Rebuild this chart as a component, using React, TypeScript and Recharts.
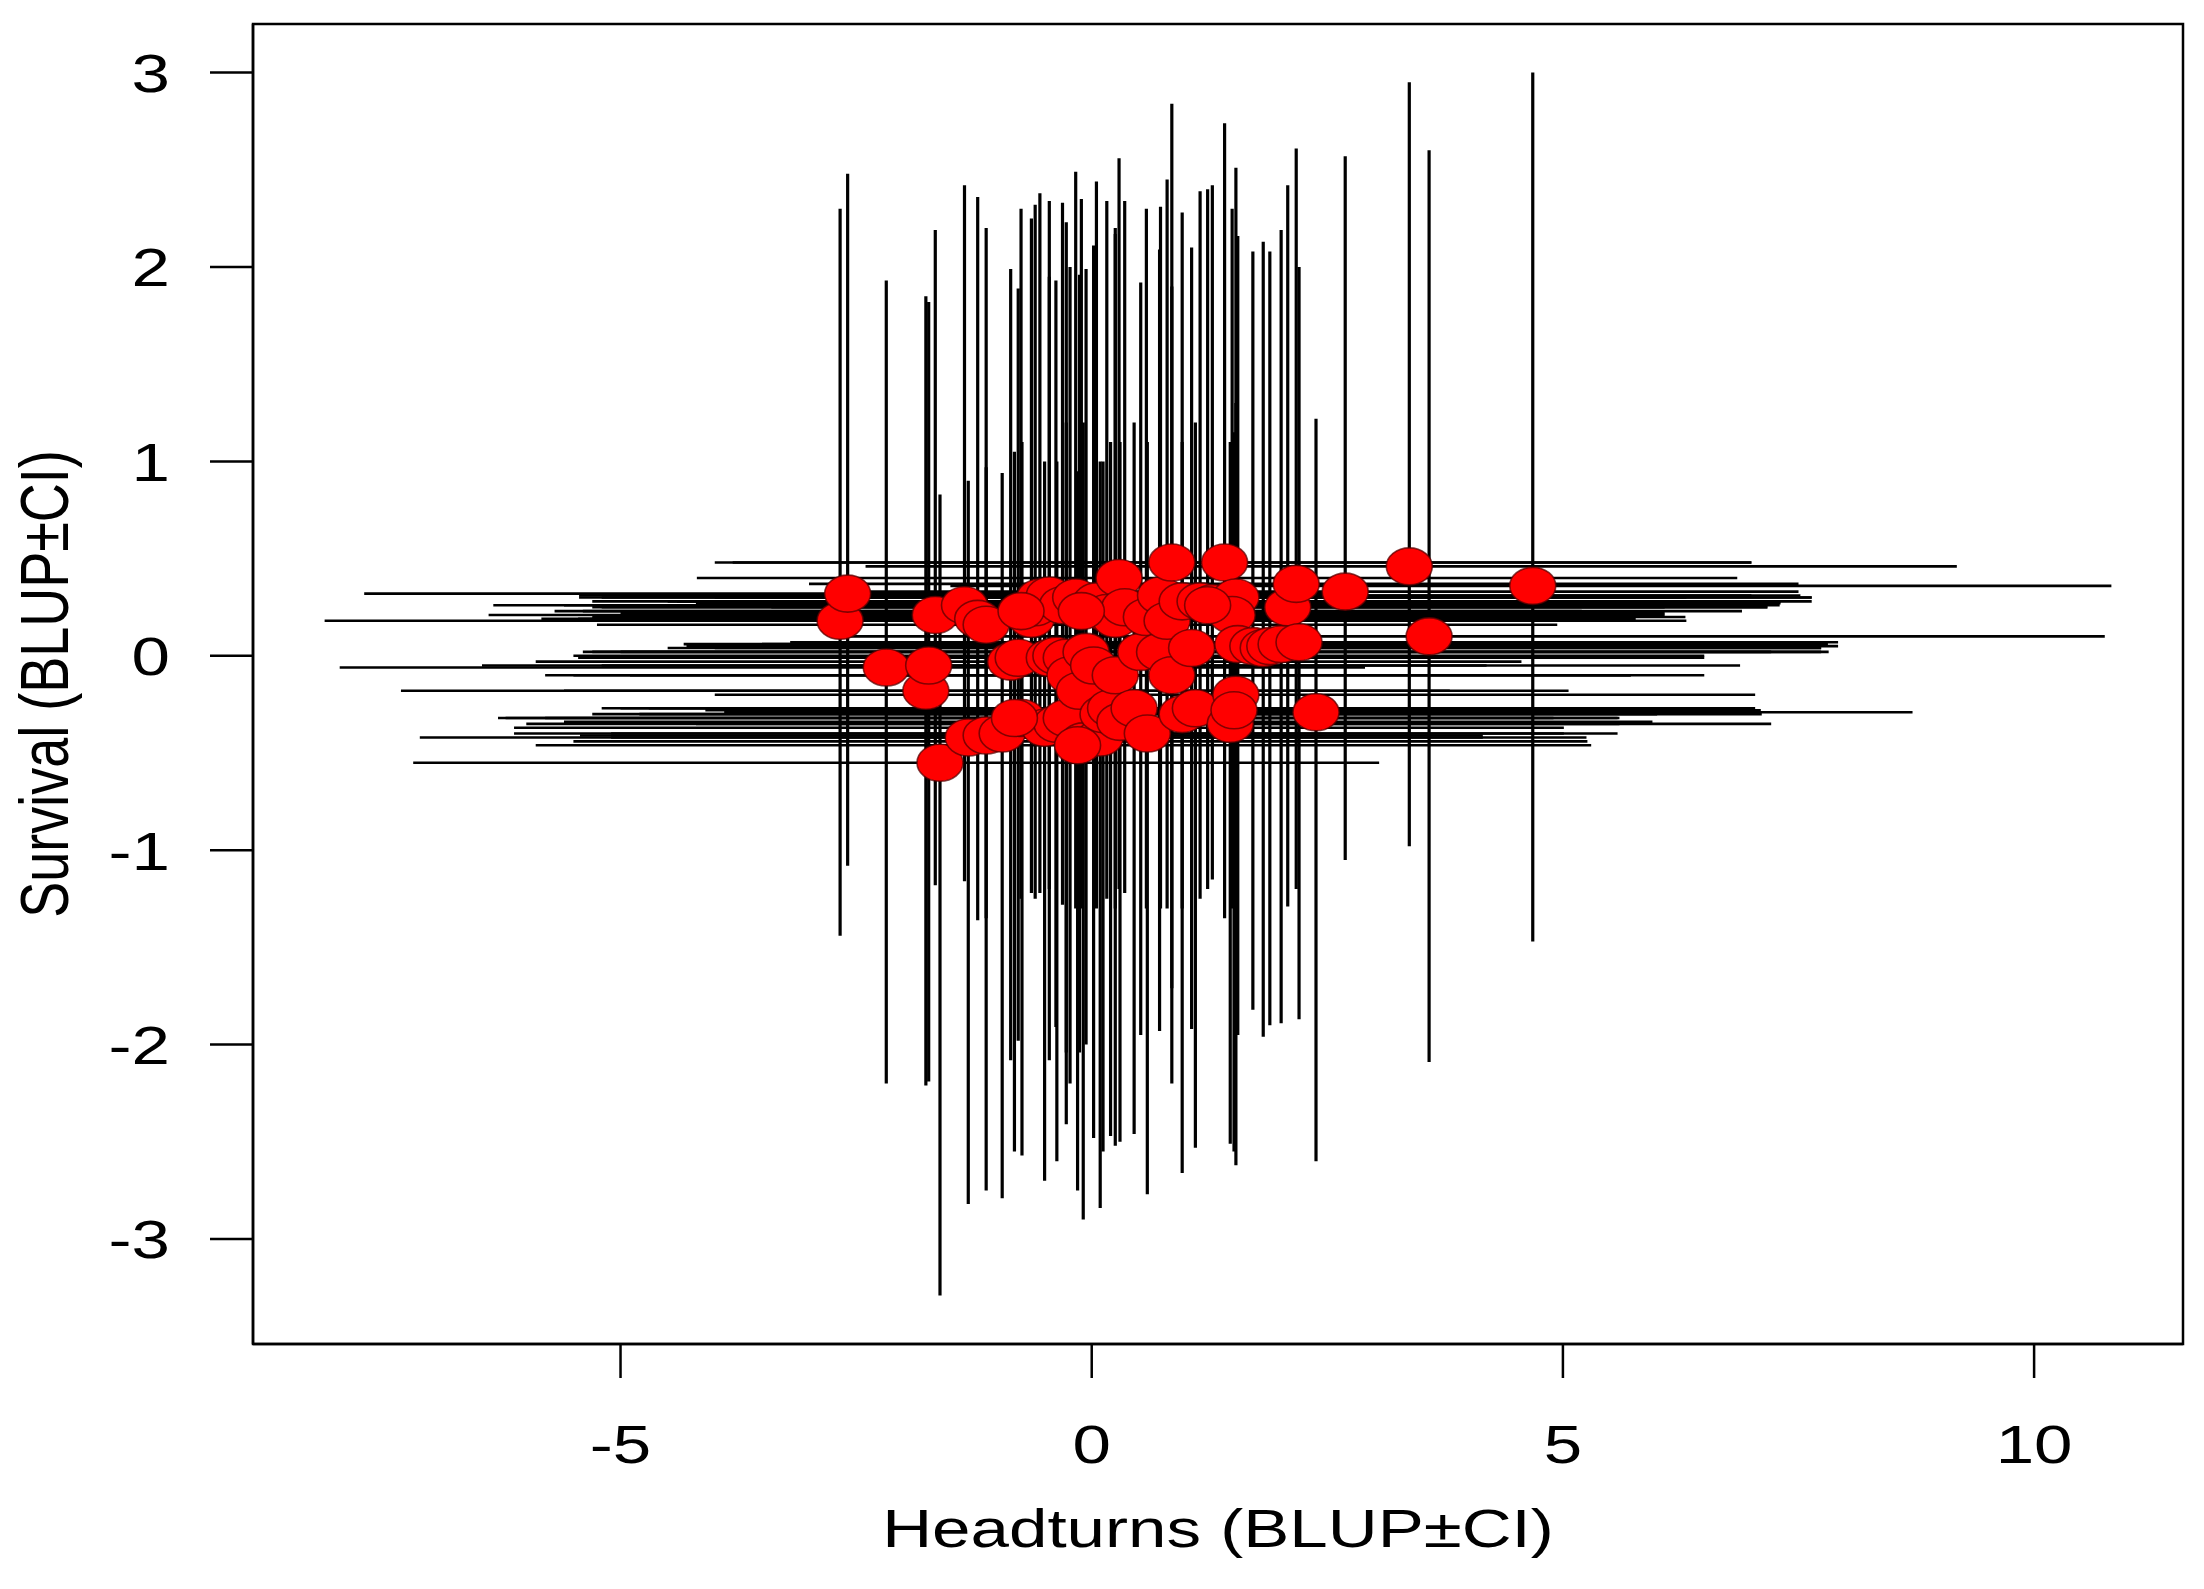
import React from 'react';
import { ScatterChart, Scatter, XAxis, YAxis, ErrorBar, ReferenceArea } from 'recharts';

// BLUP estimates (headturns on x, survival on y) with the CI ends
const headturns = [
  -2.67, -2.59, -2.18, -1.76, -1.73, -1.66, -1.61, -1.35, -1.31, -1.21,
  -1.12, -1.12, -0.95, -0.86, -0.78, -0.74, -0.64, -0.6, -0.55, -0.5,
  -0.45, -0.45, -0.38, -0.37, -0.31, -0.27, -0.27, -0.23, -0.17, -0.13,
  -0.09, -0.06, 0.02, 0.05, 0.09, 0.12, 0.16, 0.2, 0.25, 0.29,
  0.25, 0.3, 0.35, 0.45, 0.52, 0.58, 0.59, 0.72, 0.73, 0.8,
  0.85, 0.85, 0.96, 0.96, 1.06, 1.1, 1.15, 1.28, 1.41, 1.47,
  1.53, 1.49, 1.55, 1.53, 1.71, 1.82, 1.89, 2.01, 2.08, 2.17,
  2.2, 2.38, 2.69, 3.37, 3.58, 4.68, -0.75, -0.11, -0.82, -0.15,
  1.23, 1.51,
];
const survival = [
  0.18, 0.32, -0.06, -0.18, -0.05, 0.21, -0.55, 0.26, -0.42, 0.19,
  0.16, -0.41, -0.4, -0.03, -0.01, -0.32, 0.19, 0.25, 0.3, -0.37,
  -0.01, 0.31, 0.0, -0.35, 0.26, -0.01, -0.32, -0.1, 0.3, -0.18,
  -0.44, 0.02, -0.05, 0.28, -0.42, -0.3, 0.22, -0.27, -0.1, 0.4,
  0.19, -0.34, 0.25, -0.27, 0.02, 0.2, -0.4, 0.02, 0.31, 0.18,
  0.48, -0.1, 0.28, -0.3, 0.04, -0.27, 0.28, 0.27, 0.48, -0.35,
  0.3, 0.21, 0.06, -0.2, 0.05, 0.04, 0.05, 0.06, 0.25, 0.37,
  0.07, -0.29, 0.33, 0.46, 0.1, 0.36, 0.23, 0.23, -0.32, -0.46,
  0.26, -0.28,
];
const headLow = [
  -8.14, -7.72, -7.98, -7.33, -6.47, -6.4, -7.2, -6.35, -7.13, -5.45,
  -5.25, -5.43, -6.13, -5.9, -5.13, -6.22, -5.84, -5.3, -5.44, -6.13,
  -5.45, -5.44, -5.5, -6.0, -5.6, -5.3, -5.8, -5.8, -5.2, -5.6,
  -5.5, -5.4, -5.2, -5.3, -5.1, -5.3, -5.0, -5.2, -5.5, -4.19,
  -5.3, -5.6, -5.2, -5.0, -5.0, -5.3, -5.1, -5.3, -5.0, -4.6,
  -3.81, -4.9, -4.5, -4.8, -4.5, -4.7, -4.4, -4.2, -4.0, -4.2,
  -4.0, -4.3, -4.33, -4.0, -4.3, -4.0, -3.84, -3.5, -3.4, -3.0,
  -3.2, -3.9, -2.5, -2.4, -2.6, -1.5, -5.7, -5.4, -6.3, -5.9,
  -4.3, -4.1,
];
const headHigh = [
  2.8, 2.55, 2.9, 3.8, 4.19, 3.1, 3.05, 4.0, 4.15, 3.84,
  4.94, 4.15, 5.01, 4.56, 5.71, 5.6, 5.77, 6.08, 6.31, 5.01,
  5.98, 7.0, 6.5, 5.6, 7.16, 6.5, 5.58, 5.72, 7.64, 5.06,
  5.26, 7.21, 6.88, 7.31, 5.25, 6.0, 6.08, 7.04, 5.72, 6.85,
  5.77, 5.95, 7.17, 7.03, 7.74, 6.3, 5.58, 7.82, 7.52, 6.31,
  7.0, 6.5, 7.64, 7.11, 7.74, 5.95, 7.16, 7.31, 7.0, 7.21,
  7.64, 6.08, 7.81, 7.04, 7.92, 7.74, 7.21, 7.81, 7.17, 7.5,
  7.92, 8.71, 7.5, 9.18, 10.75, 10.82, 5.2, 6.9, 4.9, 5.3,
  7.3, 7.1,
];
const survLow = [
  -1.44, -1.08, -2.2, -2.21, -2.19, -1.18, -3.29, -1.16, -2.82, -1.36,
  -1.35, -2.75, -2.79, -2.08, -1.98, -2.57, -1.22, -1.25, -1.22, -2.7,
  -2.08, -1.2, -1.91, -2.6, -1.28, -2.04, -2.41, -2.2, -1.3, -2.04,
  -2.9, -2.0, -2.48, -1.3, -2.84, -2.55, -1.25, -2.47, -2.52, -1.2,
  -1.3, -2.5, -1.22, -2.46, -1.95, -1.3, -2.77, -1.93, -1.3, -1.3,
  -1.71, -2.2, -1.3, -2.66, -1.92, -2.53, -1.25, -1.15, -1.35, -2.51,
  -1.2, -1.3, -1.95, -2.62, -1.82, -1.96, -1.9, -1.89, -1.29, -1.2,
  -1.87, -2.6, -1.05, -0.98, -2.09, -1.47, -1.25, -1.3, -2.55, -2.75,
  -1.2, -2.55,
];
const survHigh = [
  2.3, 2.48, 1.93, 1.85, 1.82, 2.19, 0.83, 2.42, 0.9, 2.36,
  2.2, 0.97, 0.94, 1.99, 1.89, 1.1, 2.25, 2.32, 2.38, 1.0,
  1.95, 2.34, 1.93, 1.0, 2.33, 2.23, 1.2, 2.0, 2.49, 1.96,
  1.2, 1.99, 2.11, 2.44, 1.0, 1.0, 2.34, 1.1, 2.17, 2.56,
  2.2, 1.1, 2.34, 1.2, 1.92, 2.3, 1.1, 2.09, 2.31, 2.45,
  2.84, 1.9, 2.28, 1.1, 2.1, 1.2, 2.39, 2.42, 2.74, 1.1,
  2.51, 2.3, 2.16, 1.3, 2.08, 2.13, 2.08, 2.19, 2.42, 2.61,
  2.0, 1.22, 2.57, 2.95, 2.6, 3.0, 2.3, 2.35, 1.05, 0.95,
  2.4, 1.15,
];

const xTicks = [-5, 0, 5, 10];
const yTicks = [-3, -2, -1, 0, 1, 2, 3];
const xDomain = [-8.9, 11.58];
const yDomain = [-3.54, 3.25];

const FONT = '"Liberation Sans", Arial, Helvetica, sans-serif';
const STRETCH = 1.28; // the original figure is a bit wider than tall

// ErrorBar wants offsets from the point, not the CI ends
const rows = headturns.map((x, i) => ({
  x,
  y: survival[i],
  ex: [x - headLow[i], headHigh[i] - x],
  ey: [survival[i] - survLow[i], survHigh[i] - survival[i]],
}));

const XTick = ({ x, y, payload }: any) => (
  <g transform={`translate(${x},${y})`}>
    <text transform={`scale(${STRETCH},1)`} textAnchor="middle" dy="0.72em" fontSize={54} fontFamily={FONT} fill="#000">
      {payload.value}
    </text>
  </g>
);

const YTick = ({ x, y, payload }: any) => (
  <g transform={`translate(${x},${y})`}>
    <text transform={`scale(${STRETCH},1)`} textAnchor="end" dy="0.36em" fontSize={54} fontFamily={FONT} fill="#000">
      {payload.value}
    </text>
  </g>
);

const XTitle = (props: any) => {
  const vb = props.viewBox || { x: 253, y: 1344, width: 1930, height: 245 };
  return (
    <text
      transform={`translate(${vb.x + vb.width / 2},${vb.y + 203}) scale(${STRETCH},1)`}
      textAnchor="middle"
      fontSize={54}
      fontFamily={FONT}
      fill="#000"
    >
      Headturns (BLUP±CI)
    </text>
  );
};

const YTitle = (props: any) => {
  const vb = props.viewBox || { x: 0, y: 24, width: 253, height: 1320 };
  return (
    <text
      transform={`translate(68,${vb.y + vb.height / 2}) rotate(-90) scale(1,${STRETCH})`}
      textAnchor="middle"
      fontSize={54}
      fontFamily={FONT}
      fill="#000"
    >
      Survival (BLUP±CI)
    </text>
  );
};

const Dot = (props: any) => (
  <ellipse
    cx={props.cx}
    cy={props.cy}
    rx={23}
    ry={18.5}
    fill="#ff0000"
    stroke="#5a0000"
    strokeOpacity={0.75}
    strokeWidth={1.6}
  />
);

const axisStroke = { stroke: '#000', strokeWidth: 2.5 };

export default function App() {
  return (
    <div style={{ position: 'absolute', left: 0, top: 0, background: '#fff' }}>
      <ScatterChart width={2204} height={1589} margin={{ top: 24, right: 21, bottom: 0, left: 0 }}>
        <XAxis
          type="number"
          dataKey="x"
          domain={xDomain}
          allowDataOverflow
          ticks={xTicks}
          height={245}
          tickSize={34}
          tickMargin={46}
          axisLine={axisStroke}
          tickLine={axisStroke}
          tick={<XTick />}
          label={<XTitle />}
        />
        <YAxis
          type="number"
          dataKey="y"
          domain={yDomain}
          allowDataOverflow
          ticks={yTicks}
          width={253}
          tickSize={43}
          tickMargin={40}
          axisLine={axisStroke}
          tickLine={axisStroke}
          tick={<YTick />}
          label={<YTitle />}
        />
        <Scatter data={rows} shape={() => <g />} isAnimationActive={false}>
          <ErrorBar dataKey="ex" direction="x" width={0} stroke="#000" strokeWidth={2.6} isAnimationActive={false} />
          <ErrorBar dataKey="ey" direction="y" width={0} stroke="#000" strokeWidth={3.2} isAnimationActive={false} />
        </Scatter>
        <Scatter data={rows} shape={<Dot />} isAnimationActive={false} />
        <ReferenceArea
          x1={xDomain[0]}
          x2={xDomain[1]}
          y1={yDomain[0]}
          y2={yDomain[1]}
          fill="none"
          stroke="#000"
          strokeWidth={2.5}
          ifOverflow="visible"
        />
      </ScatterChart>
    </div>
  );
}
